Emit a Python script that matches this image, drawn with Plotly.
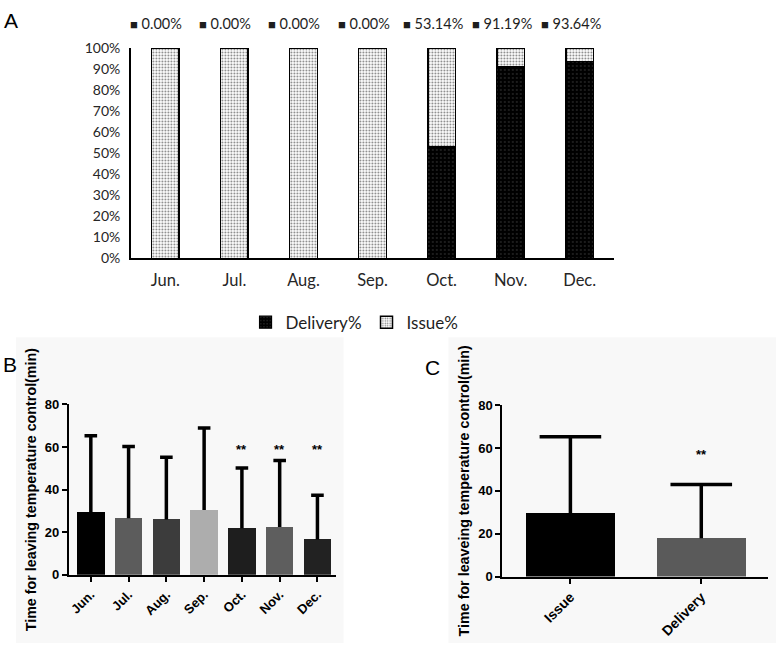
import plotly.graph_objects as go

# ---------------- data ----------------
months = ["Jun.", "Jul.", "Aug.", "Sep.", "Oct.", "Nov.", "Dec."]
delivery_pct = [0.00, 0.00, 0.00, 0.00, 53.14, 91.19, 93.64]
issue_pct = [100 - v for v in delivery_pct]

months_b = ["Jun.", "Jul.", "Aug.", "Sep.", "Oct.", "Nov.", "Dec."]
means_b = [29.3, 26.6, 26.0, 30.4, 21.9, 22.5, 16.6]
sd_b = [36.0, 33.7, 29.2, 38.5, 28.3, 31.2, 20.8]
colors_b = ["#000000", "#5c5c5c", "#3c3c3c", "#adadad", "#1e1e1e", "#5e5e5e", "#222222"]
sig_b = ["", "", "", "", "**", "**", "**"]

groups_c = ["Issue", "Delivery"]
means_c = [29.5, 17.9]
sd_c = [35.7, 25.0]
colors_c = ["#000000", "#5a5a5a"]
sig_c = ["", "**"]

W, H = 777, 652
def px(x):
    return x / W
def py(y):
    return 1 - y / H

fig = go.Figure()

# ---------------- panel A ----------------
fig.add_trace(go.Bar(
    x=months, y=delivery_pct, name="Delivery%",
    xaxis="x", yaxis="y",
    marker=dict(color="#000000", line=dict(color="#000000", width=1.2),
                pattern=dict(shape=".", fgcolor="#4a4a4a", bgcolor="#000000",
                             size=4, solidity=0.2)),
    showlegend=True,
))
fig.add_trace(go.Bar(
    x=months, y=issue_pct, name="Issue%",
    xaxis="x", yaxis="y",
    marker=dict(color="#ffffff", line=dict(color="#000000", width=1.5),
                pattern=dict(shape=".", fgcolor="#000000", bgcolor="#ffffff",
                             size=3, solidity=0.3)),
    showlegend=True,
))

annotations = []
for m, v in zip(months, delivery_pct):
    annotations.append(dict(
        x=m, y=100, xref="x", yref="y", xshift=-9, yshift=24,
        text="<span style='font-size:13px'>■</span> %.2f%%" % v,
        showarrow=False, yanchor="middle", xanchor="center",
        font=dict(family="Lato", size=14.5, color="#1e1e1e"),
    ))


def sd_whiskers(x, means, sds, xa, ya, cap):
    """Upper-only SD whisker: vertical line from the bar top up, with a top cap."""
    tops = [m + s for m, s in zip(means, sds)]
    return go.Scatter(
        x=x, y=tops, xaxis=xa, yaxis=ya, mode="markers",
        marker=dict(symbol="line-ew", size=cap, color="#000",
                    line=dict(width=3.5, color="#000")),
        error_y=dict(type="data", symmetric=False, array=[0] * len(sds),
                     arrayminus=sds, width=0, thickness=3.5, color="#000"),
        showlegend=False, hoverinfo="skip",
    )


# ---------------- panel B ----------------
fig.add_trace(go.Bar(
    x=months_b, y=means_b, xaxis="x2", yaxis="y2", width=0.73,
    marker=dict(color=colors_b, line=dict(width=0)),
    showlegend=False,
))
fig.add_trace(sd_whiskers(months_b, means_b, sd_b, "x2", "y2", 9))
for m, t in zip(months_b, sig_b):
    if t:
        annotations.append(dict(
            x=m, y=59, xref="x2", yref="y2", text="<b>%s</b>" % t,
            showarrow=False, font=dict(family="Liberation Sans", size=13, color="#000"),
        ))

# ---------------- panel C ----------------
fig.add_trace(go.Bar(
    x=groups_c, y=means_c, xaxis="x3", yaxis="y3", width=0.68,
    marker=dict(color=colors_c, line=dict(width=0)),
    showlegend=False,
))
fig.add_trace(sd_whiskers(groups_c, means_c, sd_c, "x3", "y3", 44))
for g, t in zip(groups_c, sig_c):
    if t:
        annotations.append(dict(
            x=g, y=57, xref="x3", yref="y3", text="<b>%s</b>" % t,
            showarrow=False, font=dict(family="Liberation Sans", size=13, color="#000"),
        ))

# panel letters
for lab, x, y in [("A", 10, 12), ("B", 9, 365), ("C", 432, 368)]:
    annotations.append(dict(
        x=px(x), y=py(y), xref="paper", yref="paper", text=lab, showarrow=False,
        xanchor="center", yanchor="middle",
        font=dict(family="Liberation Sans", size=21, color="#000"),
    ))

shapes = [
    dict(type="rect", xref="paper", yref="paper", x0=px(15), x1=px(343),
         y0=py(651), y1=py(337), fillcolor="#f8f8f8", line=dict(width=0), layer="below"),
    dict(type="rect", xref="paper", yref="paper", x0=px(448), x1=px(776),
         y0=py(651), y1=py(337), fillcolor="#f8f8f8", line=dict(width=0), layer="below"),
]

bold_tick = dict(family="Liberation Sans", size=13, color="#000", weight="bold")
title_font = dict(family="Liberation Sans", size=14.3, color="#000", weight="bold")

fig.update_layout(
    width=W, height=H, autosize=False,
    margin=dict(l=0, r=0, t=0, b=0),
    paper_bgcolor="#ffffff", plot_bgcolor="rgba(0,0,0,0)",
    barmode="stack", bargap=0.6,
    showlegend=True,
    legend=dict(orientation="h", x=px(354), y=py(322), xanchor="center", yanchor="middle",
                font=dict(family="Lato", size=17, color="#1e1e1e"),
                itemwidth=30, traceorder="normal", bgcolor="rgba(0,0,0,0)"),
    xaxis=dict(domain=[px(130), px(614)], anchor="y", showline=True, linecolor="#000",
               linewidth=1.5, ticks="", showgrid=False, zeroline=False,
               tickfont=dict(family="Lato", size=16.5, color="#262626"),
               ticklabelstandoff=6, range=[-0.5, 6.5]),
    yaxis=dict(domain=[py(256), py(40)], anchor="x", range=[0, 100], showline=True,
               linecolor="#000", linewidth=1.5, ticks="", showgrid=False, zeroline=False,
               tickvals=list(range(0, 101, 10)), ticktext=["%d%%" % v for v in range(0, 101, 10)],
               tickfont=dict(family="Lato", size=14, color="#262626"), ticklabelstandoff=6),
    xaxis2=dict(domain=[px(68), px(335)], anchor="y2", range=[-0.58, 6.48], showline=True,
                linecolor="#000", linewidth=2, ticks="outside", ticklen=5, tickwidth=2,
                tickcolor="#000", showgrid=False, zeroline=False, tickangle=-45,
                tickfont=bold_tick),
    yaxis2=dict(domain=[py(581), py(406)], anchor="x2", range=[0, 80], showline=True,
                linecolor="#000", linewidth=2, ticks="outside", ticklen=5, tickwidth=2,
                tickcolor="#000", showgrid=False, zeroline=False, dtick=20,
                tickfont=dict(family="Liberation Sans", size=13, color="#000", weight="bold"),
                title=dict(text="Time for leaving temperature control(min)", font=title_font,
                           standoff=5)),
    xaxis3=dict(domain=[px(502), px(768)], anchor="y3", range=[-0.52, 1.51], showline=True,
                linecolor="#000", linewidth=2, ticks="outside", ticklen=5, tickwidth=2,
                tickcolor="#000", showgrid=False, zeroline=False, tickangle=-45,
                tickfont=dict(family="Liberation Sans", size=14, color="#000", weight="bold")),
    yaxis3=dict(domain=[py(582.7), py(406.7)], anchor="x3", range=[0, 80], showline=True,
                linecolor="#000", linewidth=2, ticks="outside", ticklen=5, tickwidth=2,
                tickcolor="#000", showgrid=False, zeroline=False, dtick=20,
                tickfont=dict(family="Liberation Sans", size=13, color="#000", weight="bold"),
                title=dict(text="Time for leaveing temperature control(min)", font=title_font,
                           standoff=5)),
    annotations=annotations,
    shapes=shapes,
)

fig.write_html("out.html", config={"displayModeBar": False},
               post_script="document.body.style.margin='0px';")
